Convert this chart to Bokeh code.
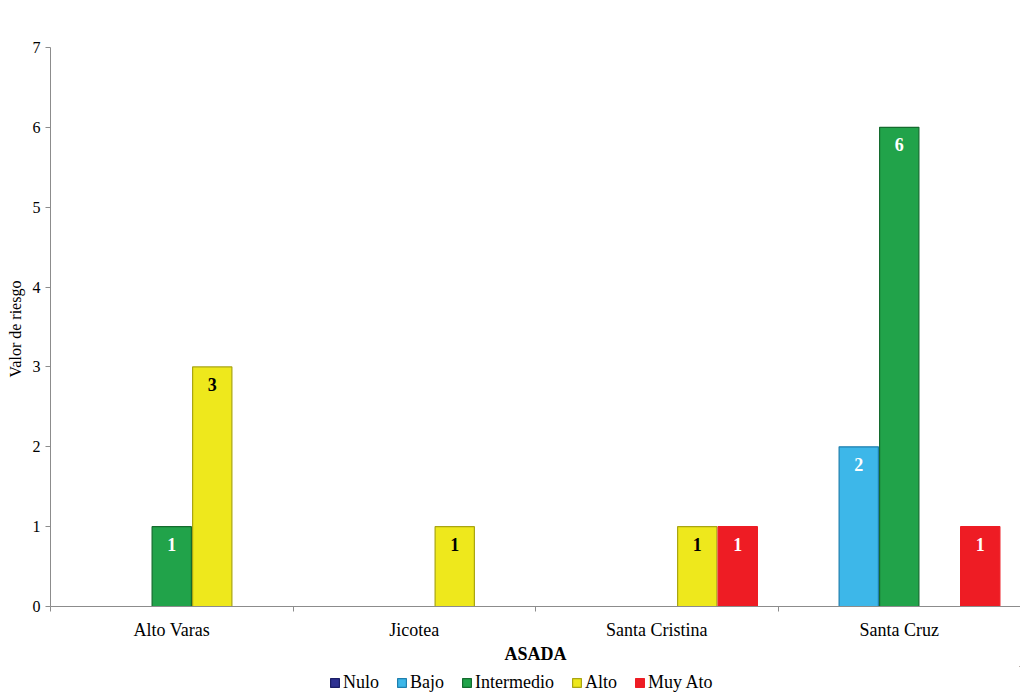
from bokeh.plotting import figure
from bokeh.layouts import column
from bokeh.models import (ColumnDataSource, Range1d, FixedTicker, Legend, LegendItem, LabelSet)
from bokeh.embed import file_html
from bokeh.resources import INLINE

categories = ["Alto Varas", "Jicotea", "Santa Cristina", "Santa Cruz"]
series = ["Nulo", "Bajo", "Intermedio", "Alto", "Muy Ato"]
nulo = [0, 0, 0, 0]
bajo = [0, 0, 0, 2]
intermedio = [1, 0, 0, 6]
alto = [3, 1, 1, 0]
muy_ato = [0, 0, 1, 1]
values = [nulo, bajo, intermedio, alto, muy_ato]
colors = ["#2E3192", "#3DB7E9", "#21A34A", "#EEE81C", "#EE1C24"]
edge_colors = ["#1B1E66", "#1F7FAE", "#146B2E", "#A9A512", "#EE1C24"]
label_colors = ["white", "white", "white", "black", "white"]
y_ticks = [0, 1, 2, 3, 4, 5, 6, 7]

FONT = "Liberation Serif"

p = figure(frame_width=970, frame_height=559, output_backend="svg", toolbar_location=None,
           x_range=Range1d(0, 4), y_range=Range1d(0, 7),
           min_border_left=50, min_border_right=0, min_border_top=47, min_border_bottom=0)
p.outline_line_color = None
p.grid.grid_line_color = None
p.background_fill_color = "white"
p.border_fill_color = "white"

# legend-only strip below the chart (its view range is kept away from the data)
lp = figure(width=1020, height=34, output_backend="svg", toolbar_location=None,
            x_range=Range1d(-20, -19), y_range=Range1d(-20, -19),
            x_axis_location=None, y_axis_location=None,
            min_border_left=0, min_border_right=0, min_border_top=0, min_border_bottom=0)
lp.outline_line_color = None
lp.grid.grid_line_color = None
lp.border_fill_color = "white"

step = 0.167
width = 0.162
items = []
for k, (name, vals, col, ecol, lcol) in enumerate(zip(series, values, colors, edge_colors, label_colors)):
    off = (k - 2) * step
    xs = [i + 0.5 + off for i in range(len(categories))]
    src = ColumnDataSource(dict(x=xs, top=vals))
    p.vbar(x="x", top="top", width=width, source=src, fill_color=col,
           line_color=ecol, line_width=1.2)
    lr = lp.vbar(x="x", top="top", width=width, source=src, fill_color=col,
                 line_color=ecol, line_width=1.2)
    items.append(LegendItem(label=name, renderers=[lr]))
    lx = [x for x, v in zip(xs, vals) if v > 0]
    ly = [v for v in vals if v > 0]
    lt = [str(v) for v in vals if v > 0]
    lsrc = ColumnDataSource(dict(x=lx, y=ly, t=lt))
    p.add_layout(LabelSet(x="x", y="y", text="t", source=lsrc, text_align="center",
                          text_baseline="top", y_offset=-11, text_color=lcol,
                          text_font=FONT, text_font_style="bold", text_font_size="18px"))

# axes
p.yaxis.ticker = FixedTicker(ticks=y_ticks, minor_ticks=[])
p.yaxis.axis_label = "Valor  de riesgo"
p.yaxis.axis_label_text_font = FONT
p.yaxis.axis_label_text_font_style = "normal"
p.yaxis.axis_label_text_font_size = "16px"
p.yaxis.axis_label_text_color = "black"
p.yaxis.axis_label_standoff = 6
p.yaxis.major_label_text_font = FONT
p.yaxis.major_label_text_font_size = "16px"
p.yaxis.major_label_text_color = "black"
p.yaxis.major_label_standoff = 5
p.yaxis.major_tick_in = 0
p.yaxis.major_tick_out = 5
p.yaxis.axis_line_color = "#8C8C8C"
p.yaxis.major_tick_line_color = "#8C8C8C"
p.yaxis.minor_tick_line_color = None

p.xaxis.ticker = FixedTicker(ticks=[i + 0.5 for i in range(len(categories))],
                             minor_ticks=list(range(len(categories) + 1)))
p.xaxis.major_label_overrides = {i + 0.5: c for i, c in enumerate(categories)}
p.xaxis.major_tick_line_color = None
p.xaxis.minor_tick_in = 0
p.xaxis.minor_tick_out = 5
p.xaxis.minor_tick_line_color = "#8C8C8C"
p.xaxis.axis_line_color = "#8C8C8C"
p.xaxis.major_label_text_font = FONT
p.xaxis.major_label_text_font_size = "18px"
p.xaxis.major_label_text_color = "black"
p.xaxis.major_label_standoff = 7
p.xaxis.axis_label = "ASADA"
p.xaxis.axis_label_text_font = FONT
p.xaxis.axis_label_text_font_style = "bold"
p.xaxis.axis_label_text_font_size = "18px"
p.xaxis.axis_label_text_color = "black"
p.xaxis.axis_label_standoff = 1

legend = Legend(items=items, orientation="horizontal", location=(279, 7),
                label_text_font=FONT, label_text_font_size="18px",
                label_text_color="black", label_height=18,
                glyph_width=11, glyph_height=11, label_standoff=3, spacing=17,
                border_line_color=None, background_fill_alpha=0,
                padding=0, margin=0)
lp.add_layout(legend, "center")

layout = column(p, lp, spacing=0)
open("out.html", "w").write(file_html(layout, INLINE))
